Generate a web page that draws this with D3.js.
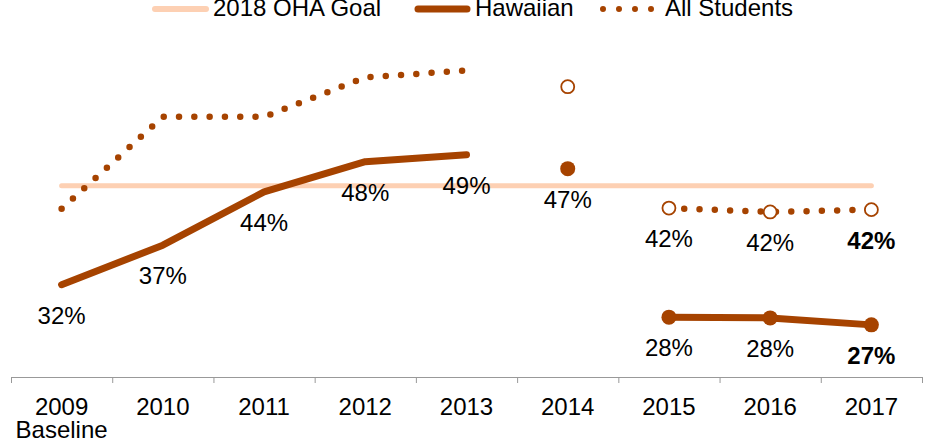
<!DOCTYPE html>
<html>
<head>
<meta charset="utf-8">
<script src="https://cdn.jsdelivr.net/npm/d3@7"></script>
<style>
  html, body { margin: 0; padding: 0; background: #fff; }
  svg { display: block; font-family: "Liberation Sans", Arial, sans-serif; }
</style>
</head>
<body>
<div id="chart"></div>
<script>
/* Hawaiian vs All Students, 2009 baseline to 2017, with 2018 OHA goal */

// ── Data ──────────────────────────────────────────────────────────────
const years = ['2009', '2010', '2011', '2012', '2013', '2014', '2015', '2016', '2017'];
const hawaiian = [32.2, 37.3, 44.2, 48.1, 49.0, 47.2, 28.0, 27.9, 27.0];
const allStudents = [42.0, 53.9, 53.9, 59.0, 59.9, 57.8, 42.1, 41.6, 41.9];
const goal = 45;
// series break: 2009-2013, 2014 alone, 2015-2017
const segment = [0, 0, 0, 0, 0, 1, 2, 2, 2];
const hawaiianLabelled = [true, true, true, true, true, true, true, true, true];
const allLabelled = [false, false, false, false, false, false, true, true, true];

// ── Layout ────────────────────────────────────────────────────────────
const TW = 932, TH = 443;
const AXIS_Y = 377;
const HAW = '#a64300';
const GOAL = '#fdd0b3';
const FS = 24;

const svg = d3.select('#chart').append('svg')
  .attr('width', TW).attr('height', TH);

const x = d3.scaleBand().domain(years).range([11, 922]).padding(0);
const cx = d => x(d) + x.bandwidth() / 2;
const y = d3.scaleLinear().domain([20, 65]).range([379, 31]);

// ── Axis (ticks on band edges) ────────────────────────────────────────
const xEdge = d3.scaleLinear().domain([0, years.length]).range(x.range());
const axis = svg.append('g')
  .attr('transform', `translate(0,${AXIS_Y})`)
  .call(d3.axisBottom(xEdge).tickValues(d3.range(years.length + 1))
    .tickSize(6).tickSizeOuter(0).tickFormat(''));
axis.selectAll('path, line').attr('stroke', '#999').attr('stroke-width', 1);

svg.append('g').selectAll('text')
  .data(years).join('text')
  .attr('x', cx).attr('y', 415)
  .attr('text-anchor', 'middle')
  .attr('font-size', FS)
  .text(d => d);
svg.append('text')
  .attr('x', cx(years[0])).attr('y', 438)
  .attr('text-anchor', 'middle').attr('font-size', FS)
  .text('Baseline');

// ── Goal line ─────────────────────────────────────────────────────────
svg.append('line')
  .attr('x1', cx(years[0])).attr('x2', cx(years[years.length - 1]))
  .attr('y1', y(goal)).attr('y2', y(goal))
  .attr('stroke', GOAL).attr('stroke-width', 5).attr('stroke-linecap', 'round');

// ── Series ────────────────────────────────────────────────────────────
const line = d3.line().x(d => cx(d.year)).y(d => y(d.v));

function pts(vals, seg) {
  return years.map((yr, i) => ({ year: yr, v: vals[i], seg: segment[i] }))
    .filter(d => d.seg === seg);
}

[0, 2].forEach(seg => {
  svg.append('path')
    .attr('d', line(pts(allStudents, seg)))
    .attr('fill', 'none').attr('stroke', HAW)
    .attr('stroke-width', 6.5).attr('stroke-linecap', 'round')
    .attr('stroke-dasharray', '0 15.3');
  svg.append('path')
    .attr('d', line(pts(hawaiian, seg)))
    .attr('fill', 'none').attr('stroke', HAW)
    .attr('stroke-width', 7).attr('stroke-linecap', 'round')
    .attr('stroke-linejoin', 'round');
});

// markers from 2014 on
const markIdx = d3.range(years.length).filter(i => segment[i] > 0);
svg.append('g').selectAll('circle')
  .data(markIdx).join('circle')
  .attr('cx', i => cx(years[i])).attr('cy', i => y(allStudents[i]))
  .attr('r', 6.5).attr('fill', '#fff')
  .attr('stroke', HAW).attr('stroke-width', 1.8);
svg.append('g').selectAll('circle')
  .data(markIdx).join('circle')
  .attr('cx', i => cx(years[i])).attr('cy', i => y(hawaiian[i]))
  .attr('r', 7.5).attr('fill', HAW);

// ── Data labels ───────────────────────────────────────────────────────
function labels(vals, flags) {
  svg.append('g').selectAll('text')
    .data(d3.range(years.length).filter(i => flags[i])).join('text')
    .attr('x', i => cx(years[i])).attr('y', i => y(vals[i]) + 39)
    .attr('text-anchor', 'middle').attr('font-size', FS)
    .attr('font-weight', i => i === years.length - 1 ? 'bold' : 'normal')
    .text(i => Math.round(vals[i]) + '%');
}
labels(hawaiian, hawaiianLabelled);
labels(allStudents, allLabelled);

// ── Legend ────────────────────────────────────────────────────────────
const lg = svg.append('g');
lg.append('line').attr('x1', 155).attr('x2', 206).attr('y1', 9).attr('y2', 9)
  .attr('stroke', GOAL).attr('stroke-width', 6).attr('stroke-linecap', 'round');
lg.append('text').attr('x', 213).attr('y', 16).attr('font-size', FS).text('2018 OHA Goal');
lg.append('line').attr('x1', 418).attr('x2', 467).attr('y1', 9).attr('y2', 9)
  .attr('stroke', HAW).attr('stroke-width', 7).attr('stroke-linecap', 'round');
lg.append('text').attr('x', 475).attr('y', 16).attr('font-size', FS).text('Hawaiian');
lg.append('line').attr('x1', 603).attr('x2', 652).attr('y1', 9).attr('y2', 9)
  .attr('stroke', HAW).attr('stroke-width', 6).attr('stroke-linecap', 'round')
  .attr('stroke-dasharray', '0 16');
lg.append('text').attr('x', 665).attr('y', 16).attr('font-size', FS).text('All Students');
</script>
</body>
</html>
